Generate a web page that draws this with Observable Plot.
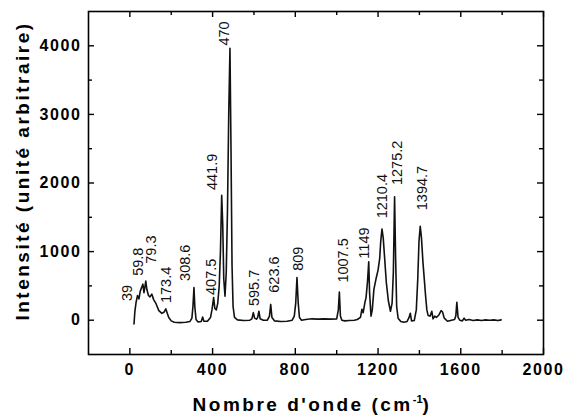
<!DOCTYPE html>
<html>
<head>
<meta charset="utf-8">
<script src="https://cdn.jsdelivr.net/npm/d3@7"></script>
<script src="https://cdn.jsdelivr.net/npm/@observablehq/plot@0.6"></script>
<style>
  body { margin: 0; background: #fff; }
  #chart svg g[aria-label="x-axis tick label"] text,
  #chart svg g[aria-label="y-axis tick label"] text { letter-spacing: 1.6px; }
</style>
</head>
<body>
<div id="chart"></div>
<script>
// Raman spectrum
const wavenumber = [20,24,30,37,44,50,57,63,68,72,77,82,90,97,106,115,125,140,155,166,174,180,188,200,215,240,270,290,300,305,310,314,320,330,345,352,358,375,390,397,405,411,418,425,432,438,444,449,454,460,466,472,478,484,489,494,499,506,520,550,580,590,597,603,612,618,624,630,645,665,675,681,687,700,730,760,785,795,802,808,814,820,830,850,880,910,940,970,1000,1008,1013,1018,1025,1040,1060,1085,1100,1115,1122,1128,1136,1142,1149,1155,1159,1166,1172,1180,1190,1200,1208,1213,1219,1225,1232,1240,1250,1260,1268,1274,1280,1285,1290,1297,1310,1325,1340,1350,1356,1362,1375,1385,1392,1398,1404,1410,1417,1423,1430,1436,1442,1452,1460,1466,1474,1482,1495,1505,1512,1520,1536,1555,1570,1576,1581,1587,1595,1608,1616,1624,1640,1660,1680,1700,1720,1740,1760,1780,1795];
const intensity = [-55,120,260,360,310,420,480,525,400,470,570,450,360,340,380,300,250,140,100,120,165,110,40,-10,-30,-35,-30,-20,30,200,475,200,10,-25,-20,45,-15,-15,40,150,330,170,150,250,500,1000,1820,1400,600,350,700,1600,3000,3965,2500,800,200,40,5,-5,0,20,110,30,15,40,130,20,0,0,60,230,40,-10,-20,-15,0,60,250,622,250,40,0,10,20,15,20,15,20,150,410,60,0,-10,-5,0,10,40,160,110,250,330,560,850,400,60,150,450,600,730,900,1150,1330,1200,900,550,280,130,250,700,1800,900,200,30,-20,-30,-20,40,100,-10,-5,150,600,1150,1370,1200,850,620,350,150,70,60,130,20,60,40,80,140,120,30,-15,0,10,60,260,40,0,-10,30,0,10,-5,5,-5,5,0,5,-5,5];

// Peak annotations
const peakLabels = ["39","59.8","79.3","173.4","308.6","407.5","441.9","470","595.7","623.6","809","1007.5","1149","1210.4","1275.2","1394.7"];
const labelX = [-12,42,106,176,270,395,399,459,604,700,813,1030,1134,1223,1292,1416];
const labelY = [280,647,823,250,573,368,1897,4004,206,401,720,548,897,1485,1970,1603];

// Axis ticks
const xMajorTicks = [0,400,800,1200,1600,2000];
const xMinorTicks = [200,600,1000,1400,1800];
const yMajorTicks = [0,1000,2000,3000,4000];
const yMinorTicks = [500,1500,2500,3500];

const W = 563, H = 418, ML = 88, MR = 20, MT = 11, MB = 64;
const PW = W - ML - MR, PH = H - MT - MB;
const MAJ = 6, MIN = 4;

const spectrum = wavenumber.map((x, i) => ({x, y: intensity[i]}));
const labels = peakLabels.map((t, i) => ({t, x: labelX[i], y: labelY[i]}));
const plain = (d) => String(d);
const tick = {stroke: "black", strokeWidth: 1.4};

const chart = Plot.plot({
  width: W,
  height: H,
  marginLeft: ML,
  marginRight: MR,
  marginTop: MT,
  marginBottom: MB,
  x: {domain: [-200, 2000]},
  y: {domain: [-500, 4500]},
  style: {fontFamily: "'Liberation Sans', Arial, sans-serif", color: "black", background: "white"},
  marks: [
    Plot.line(spectrum, {x: "x", y: "y", stroke: "#111", strokeWidth: 1.6}),
    Plot.text(labels, {x: "x", y: "y", text: "t", rotate: -90, textAnchor: "start", fontSize: 14.5, fill: "#111"}),
    // tick labels
    Plot.axisX(xMajorTicks, {anchor: "bottom", tickSize: 0, tickPadding: 9, tickFormat: plain, fontSize: 16, fontWeight: "bold", label: null}),
    Plot.axisY(yMajorTicks, {anchor: "left", tickSize: 0, tickPadding: 7, tickFormat: plain, fontSize: 16, fontWeight: "bold", label: null}),
    // inward ticks on all four sides
    Plot.ruleX(xMajorTicks, {x: d => d, insetTop: PH - MAJ, ...tick}),
    Plot.ruleX(xMinorTicks, {x: d => d, insetTop: PH - MIN, ...tick}),
    Plot.ruleX(xMajorTicks, {x: d => d, insetBottom: PH - MAJ, ...tick}),
    Plot.ruleX(xMinorTicks, {x: d => d, insetBottom: PH - MIN, ...tick}),
    Plot.ruleY(yMajorTicks, {y: d => d, insetRight: PW - MAJ, ...tick}),
    Plot.ruleY(yMinorTicks, {y: d => d, insetRight: PW - MIN, ...tick}),
    Plot.ruleY(yMajorTicks, {y: d => d, insetLeft: PW - MAJ, ...tick}),
    Plot.ruleY(yMinorTicks, {y: d => d, insetLeft: PW - MIN, ...tick}),
    Plot.frame({stroke: "black", strokeWidth: 1.6})
  ]
});

const svg = d3.select(chart);
// Axis titles
const xt = svg.append("text")
  .attr("x", 312).attr("y", 411)
  .attr("text-anchor", "middle")
  .style("font", "bold 19px 'Liberation Sans', Arial, sans-serif")
  .style("letter-spacing", "2.5px")
  .attr("fill", "black");
xt.append("tspan").text("Nombre d'onde (cm");
xt.append("tspan").attr("dy", -8).style("font-size", "11px").style("letter-spacing", "0px").text("-1");
xt.append("tspan").attr("dy", 8).text(")");

svg.append("text")
  .attr("transform", "translate(29,171) rotate(-90)")
  .attr("text-anchor", "middle")
  .style("font", "bold 19px 'Liberation Sans', Arial, sans-serif")
  .style("letter-spacing", "2.5px")
  .attr("fill", "black")
  .text("Intensité (unité arbitraire)");

document.getElementById("chart").appendChild(chart);
</script>
</body>
</html>
